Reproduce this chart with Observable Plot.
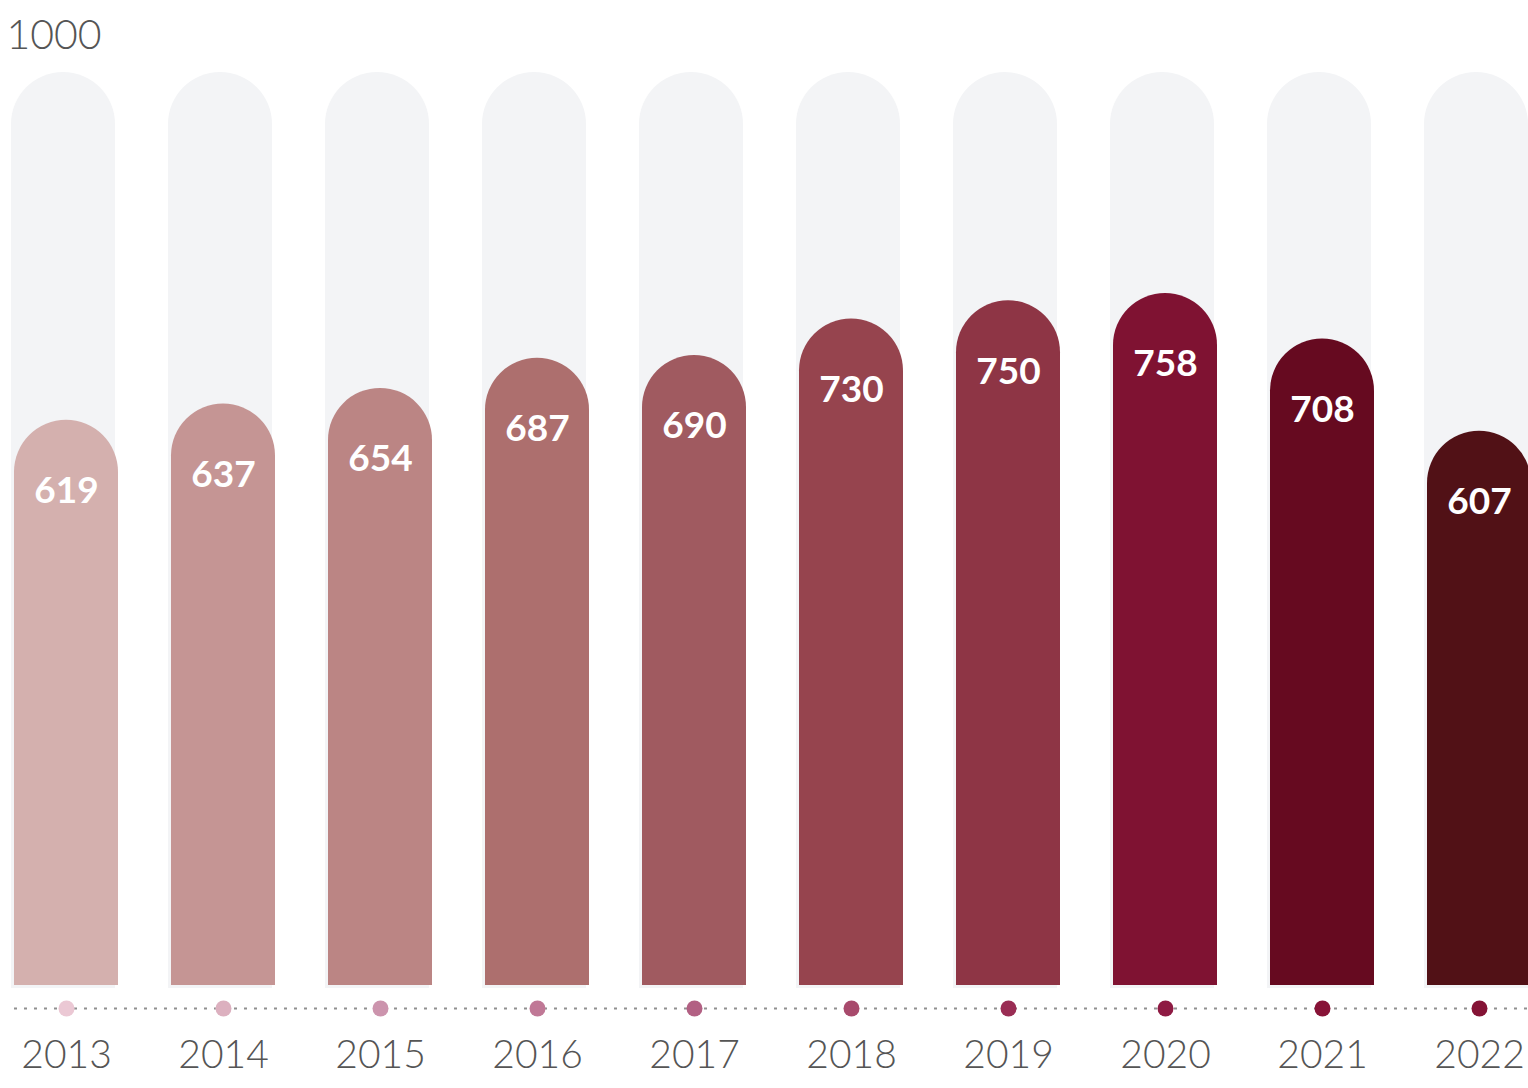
<!DOCTYPE html>
<html>
<head>
<meta charset="utf-8">
<script src="https://cdn.jsdelivr.net/npm/d3@7"></script>
<script src="https://cdn.jsdelivr.net/npm/@observablehq/plot@0.6"></script>
<style>
  html, body { margin: 0; padding: 0; background: #fff; overflow: hidden; }
  #chart svg { overflow: hidden; }
</style>
</head>
<body>
<div id="chart"></div>
<script>
const years = ["2013","2014","2015","2016","2017","2018","2019","2020","2021","2022"];
const values = [619, 637, 654, 687, 690, 730, 750, 758, 708, 607];
const maxValue = 1000;
const barColors = ["#d4b0ae","#c59594","#bb8584","#ad6f6e","#a05a60","#96444e","#8e3545","#7f1232","#660a20","#511116"];
const dotColors = ["#ebc8d4","#dcb0bf","#cc94ad","#c07896","#b26083","#a84a6c","#9a2d54","#8e1a43","#871337","#841335"];

const data = years.map((year, i) => ({year, value: values[i], max: maxValue, barColor: barColors[i], dotColor: dotColors[i]}));

const R = 52;
const chart = Plot.plot({
  width: 1528,
  height: 1088,
  marginTop: 72,
  marginBottom: 103,
  marginLeft: 0,
  marginRight: 0,
  style: {background: "#fff"},
  x: {domain: years, range: [0, 1545], paddingInner: 53 / 157, paddingOuter: 14 / 157, round: false, axis: null},
  y: {domain: [0, maxValue], axis: null},
  color: {type: "identity"},
  marks: [
    // background pills
    Plot.barY(data, {x: "year", y: "max", fill: "#f3f4f6", rx: R, dx: -3, shapeRendering: "geometricPrecision"}),
    Plot.barY(data, {x: "year", y: "max", fill: "#f3f4f6", insetTop: R, insetBottom: -3, dx: -3, shapeRendering: "crispEdges"}),
    // value bars
    Plot.barY(data, {x: "year", y: "value", fill: "barColor", rx: R}),
    Plot.barY(data, {x: "year", y: "value", fill: "barColor", insetTop: R, shapeRendering: "crispEdges"}),
    // value labels
    Plot.text(data, {x: "year", y: "value", text: d => String(d.value), dy: 71, fill: "#fff",
      fontSize: 37, fontWeight: 700, fontFamily: "Lato, sans-serif"}),
    // dotted baseline
    Plot.ruleY([0], {dy: 23, stroke: "#909090", strokeWidth: 2, strokeDasharray: "3,7", insetLeft: 14}),
    Plot.dot(data, {x: "year", y: 0, dy: 23, r: 8, fill: "dotColor", stroke: "none"}),
    // year labels
    Plot.text(data, {x: "year", y: 0, text: "year", dy: 70, fill: "#555", fontSize: 39,
      fontWeight: 300, fontFamily: "Lato, sans-serif"}),
    // top tick label
    Plot.text([maxValue], {y: d => d, text: d => String(d), frameAnchor: "left", textAnchor: "start",
      dx: 6, dy: -37, fill: "#555", fontSize: 41, fontWeight: 300, fontFamily: "Lato, sans-serif"})
  ]
});
document.getElementById("chart").appendChild(chart);
</script>
</body>
</html>
